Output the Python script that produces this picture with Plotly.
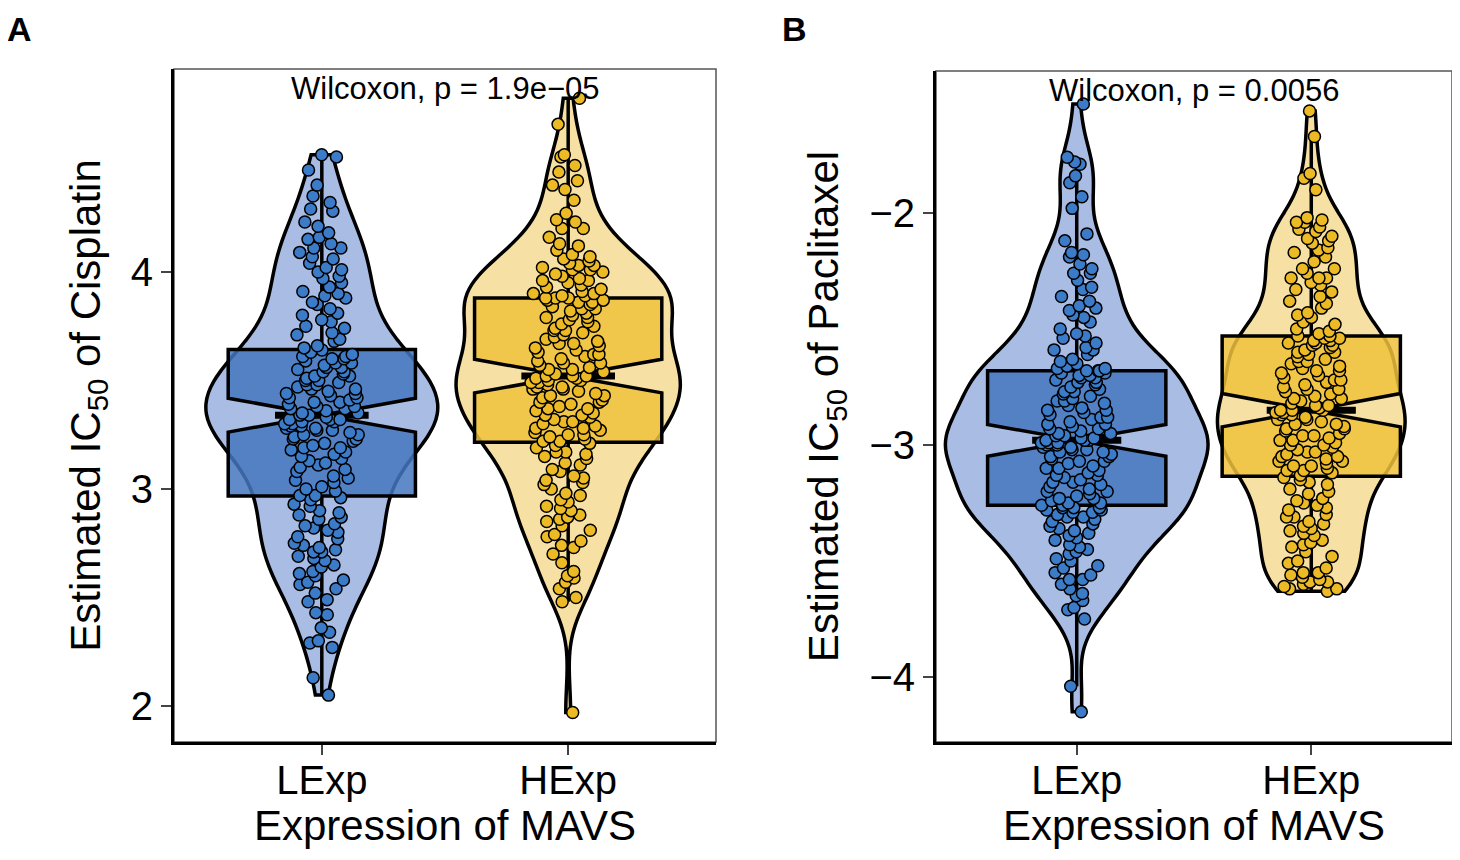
import numpy as np
import plotly.graph_objects as go
from plotly.subplots import make_subplots

# -----------------------------
# DATA (estimated IC50 values)
# -----------------------------
groups = ["LExp", "HExp"]

cis_lexp = [
    2.05, 2.13, 2.27, 2.29, 2.30, 2.34, 2.36, 2.42, 2.43, 2.48, 2.49, 2.52, 2.54, 2.56, 2.57,
    2.58, 2.60, 2.61, 2.62, 2.64, 2.65, 2.67, 2.68, 2.69, 2.71, 2.71, 2.72, 2.73, 2.74, 2.75,
    2.77, 2.78, 2.80, 2.81, 2.82, 2.83, 2.84, 2.86, 2.87, 2.88, 2.89, 2.90, 2.92, 2.93, 2.95,
    2.96, 2.97, 2.97, 2.99, 3.00, 3.01, 3.03, 3.04, 3.05, 3.06, 3.08, 3.09, 3.10, 3.11, 3.12,
    3.13, 3.14, 3.15, 3.16, 3.17, 3.18, 3.19, 3.19, 3.20, 3.21, 3.22, 3.23, 3.23, 3.24, 3.25,
    3.25, 3.26, 3.27, 3.27, 3.28, 3.28, 3.29, 3.29, 3.30, 3.30, 3.31, 3.31, 3.32, 3.32, 3.32,
    3.33, 3.34, 3.34, 3.35, 3.35, 3.36, 3.37, 3.37, 3.38, 3.38, 3.39, 3.40, 3.40, 3.41, 3.42,
    3.42, 3.43, 3.44, 3.44, 3.45, 3.46, 3.46, 3.47, 3.48, 3.48, 3.49, 3.50, 3.50, 3.51, 3.52,
    3.52, 3.53, 3.54, 3.54, 3.55, 3.56, 3.56, 3.57, 3.58, 3.58, 3.59, 3.60, 3.60, 3.61, 3.61,
    3.62, 3.63, 3.64, 3.65, 3.66, 3.68, 3.69, 3.71, 3.72, 3.74, 3.75, 3.77, 3.78, 3.80, 3.81,
    3.83, 3.85, 3.86, 3.88, 3.89, 3.90, 3.91, 3.93, 3.95, 3.97, 3.98, 4.00, 4.01, 4.02, 4.04,
    4.06, 4.07, 4.09, 4.11, 4.11, 4.13, 4.15, 4.16, 4.18, 4.21, 4.23, 4.28, 4.29, 4.32, 4.35,
    4.40, 4.47, 4.53, 4.54,
]

cis_hexp = [
    1.97, 2.48, 2.50, 2.54, 2.57, 2.59, 2.60, 2.62, 2.66, 2.70, 2.73, 2.74, 2.76, 2.78, 2.79,
    2.81, 2.83, 2.85, 2.86, 2.87, 2.88, 2.90, 2.91, 2.92, 2.94, 2.95, 2.97, 2.98, 3.00, 3.02,
    3.03, 3.04, 3.05, 3.06, 3.08, 3.09, 3.11, 3.12, 3.14, 3.15, 3.16, 3.17, 3.17, 3.19, 3.20,
    3.21, 3.22, 3.22, 3.23, 3.24, 3.25, 3.25, 3.26, 3.27, 3.28, 3.28, 3.29, 3.30, 3.31, 3.31,
    3.32, 3.33, 3.34, 3.34, 3.35, 3.36, 3.37, 3.37, 3.38, 3.39, 3.40, 3.40, 3.41, 3.42, 3.43,
    3.43, 3.44, 3.45, 3.46, 3.46, 3.47, 3.47, 3.48, 3.49, 3.49, 3.50, 3.50, 3.51, 3.51, 3.52,
    3.52, 3.52, 3.53, 3.54, 3.55, 3.55, 3.56, 3.57, 3.58, 3.58, 3.59, 3.60, 3.61, 3.62, 3.62,
    3.63, 3.64, 3.65, 3.66, 3.67, 3.67, 3.68, 3.69, 3.70, 3.71, 3.72, 3.73, 3.73, 3.74, 3.75,
    3.76, 3.77, 3.78, 3.79, 3.79, 3.80, 3.81, 3.82, 3.83, 3.83, 3.84, 3.85, 3.86, 3.86, 3.87,
    3.87, 3.88, 3.88, 3.88, 3.89, 3.89, 3.90, 3.90, 3.91, 3.92, 3.93, 3.94, 3.95, 3.96, 3.96,
    3.97, 3.98, 3.99, 4.00, 4.01, 4.01, 4.02, 4.03, 4.03, 4.04, 4.05, 4.06, 4.07, 4.08, 4.10,
    4.12, 4.13, 4.16, 4.20, 4.20, 4.23, 4.24, 4.27, 4.33, 4.38, 4.40, 4.42, 4.46, 4.49, 4.53,
    4.54, 4.68, 4.80,
]

pac_lexp = [
    -4.15, -4.04, -3.75, -3.71, -3.70, -3.67, -3.65, -3.64, -3.62, -3.60, -3.58, -3.58, -3.56,
    -3.55, -3.53, -3.52, -3.50, -3.49, -3.47, -3.46, -3.45, -3.44, -3.43, -3.41, -3.40, -3.39,
    -3.38, -3.37, -3.36, -3.35, -3.34, -3.33, -3.32, -3.31, -3.31, -3.30, -3.29, -3.29, -3.28,
    -3.28, -3.27, -3.27, -3.27, -3.26, -3.26,
    -3.25, -3.25, -3.24, -3.23, -3.23, -3.22, -3.21, -3.20, -3.20, -3.19, -3.18, -3.17, -3.16,
    -3.16, -3.15, -3.14, -3.13, -3.13, -3.12, -3.11, -3.10, -3.10, -3.09, -3.08, -3.07, -3.07,
    -3.06, -3.05, -3.05, -3.04, -3.03, -3.03, -3.02, -3.02, -3.01, -3.01, -3.00, -3.00, -2.99,
    -2.99, -2.99, -2.98, -2.98, -2.98,
    -2.97, -2.97, -2.96, -2.96, -2.95, -2.95, -2.94, -2.93, -2.93, -2.92, -2.91, -2.91, -2.90,
    -2.89, -2.88, -2.88, -2.87, -2.86, -2.85, -2.85, -2.84, -2.83, -2.82, -2.81, -2.81, -2.80,
    -2.79, -2.78, -2.77, -2.77, -2.76, -2.75, -2.74, -2.73, -2.73, -2.72, -2.71, -2.71, -2.70,
    -2.70, -2.69, -2.69, -2.68, -2.68,
    -2.68, -2.67, -2.67, -2.66, -2.65, -2.64, -2.63, -2.61, -2.59, -2.59, -2.58, -2.56, -2.54,
    -2.53, -2.52, -2.50, -2.47, -2.45, -2.44, -2.42, -2.41, -2.40, -2.38, -2.36, -2.33, -2.32,
    -2.29, -2.26, -2.26, -2.24, -2.22, -2.19, -2.18, -2.17, -2.12, -2.09, -1.98, -1.93, -1.87,
    -1.84, -1.79, -1.78, -1.76, -1.53,
]

pac_hexp = [
    -3.63, -3.62, -3.62, -3.61, -3.60, -3.59, -3.59, -3.58, -3.57, -3.56, -3.55, -3.55, -3.53,
    -3.51, -3.50, -3.48, -3.46, -3.44, -3.43, -3.42, -3.41, -3.39, -3.38, -3.37, -3.36, -3.35,
    -3.34, -3.33, -3.31, -3.31, -3.30, -3.28, -3.27, -3.26, -3.25, -3.24, -3.23, -3.21, -3.20,
    -3.19, -3.17, -3.16, -3.15, -3.14, -3.13,
    -3.12, -3.11, -3.11, -3.10, -3.09, -3.09, -3.08, -3.07, -3.07, -3.06, -3.05, -3.05, -3.04,
    -3.03, -3.03, -3.02, -3.01, -3.00, -3.00, -2.99, -2.98, -2.98, -2.97, -2.96, -2.96, -2.95,
    -2.94, -2.93, -2.93, -2.92, -2.91, -2.91, -2.90, -2.89, -2.89, -2.88, -2.87, -2.87, -2.86,
    -2.86, -2.85, -2.85, -2.85,
    -2.84, -2.83, -2.83, -2.82, -2.81, -2.80, -2.80, -2.79, -2.78, -2.77, -2.76, -2.76, -2.75,
    -2.74, -2.73, -2.72, -2.72, -2.71, -2.70, -2.69, -2.68, -2.68, -2.67, -2.66, -2.65, -2.64,
    -2.64, -2.63, -2.62, -2.61, -2.60, -2.60, -2.59, -2.58, -2.57, -2.57, -2.56, -2.56, -2.55,
    -2.55, -2.54, -2.54,
    -2.53, -2.53, -2.52, -2.51, -2.50, -2.48, -2.47, -2.45, -2.44, -2.43, -2.41, -2.39, -2.38,
    -2.36, -2.34, -2.33, -2.31, -2.30, -2.28, -2.28, -2.28, -2.26, -2.24, -2.24, -2.21, -2.19,
    -2.17, -2.16, -2.15, -2.13, -2.12, -2.11, -2.10, -2.08, -2.07, -2.06, -2.04, -2.04, -2.03,
    -2.02, -1.90, -1.85, -1.83, -1.67, -1.56,
]

p_values = ["1.9e−05", "0.0056"]
drugs = ["Cisplatin", "Paclitaxel"]

# -----------------------------
# STYLE
# -----------------------------
FONT = "Liberation Sans, Arial, Helvetica, sans-serif"
violin_fill = {"LExp": "#A9BCE4", "HExp": "#F7E0A3"}
box_fill = {"LExp": "rgba(69,118,190,0.85)", "HExp": "rgba(239,193,60,0.85)"}
point_fill = {"LExp": "#3B7BC8", "HExp": "#ECBA24"}
violin_width = [[0.94, 0.91], [1.12, 0.80]]
bandwidth = [[0.15, 0.13], [0.12, 0.11]]
BOX_W = 0.76
NOTCH_W = 0.5

# page body adds an 8px margin, so the figure is a bit smaller than the window
W, H, OFF = 1444, 844, 8


def px_x(px):
    return (px - OFF) / W


def px_y(py):
    return 1 - (py - OFF) / H


def box_stats(vals):
    v = np.sort(np.asarray(vals, dtype=float))
    q1, med, q3 = np.percentile(v, [25, 50, 75])
    iqr = q3 - q1
    lf = v[v >= q1 - 1.5 * iqr].min()
    uf = v[v <= q3 + 1.5 * iqr].max()
    notch = 1.57 * iqr / np.sqrt(len(v))
    return q1, med, q3, lf, uf, notch


panels = [[cis_lexp, cis_hexp], [pac_lexp, pac_hexp]]

fig = make_subplots(rows=1, cols=2)

for p, data_pair in enumerate(panels):
    col = p + 1
    # violins
    for g, vals in enumerate(data_pair):
        name = groups[g]
        fig.add_trace(go.Violin(
            x0=g, y=vals, name=name,
            fillcolor=violin_fill[name],
            line=dict(color="black", width=3.5),
            points=False, box_visible=False, meanline_visible=False,
            spanmode="hard", scalemode="width",
            width=violin_width[p][g], bandwidth=bandwidth[p][g],
            hoverinfo="skip", showlegend=False,
        ), row=1, col=col)
    # notched boxes, thick median, then jittered points
    for g, vals in enumerate(data_pair):
        name = groups[g]
        q1, med, q3, lf, uf, notch = box_stats(vals)
        fig.add_trace(go.Box(
            x=[g], q1=[q1], median=[med], q3=[q3],
            lowerfence=[lf], upperfence=[uf], notchspan=[notch],
            notched=True, notchwidth=NOTCH_W, width=BOX_W, whiskerwidth=0,
            fillcolor=box_fill[name],
            line=dict(color="black", width=3.5),
            hoverinfo="skip", showlegend=False,
        ), row=1, col=col)
        fig.add_trace(go.Box(
            x=[g], q1=[med], median=[med], q3=[med],
            lowerfence=[med], upperfence=[med],
            width=BOX_W * (1 - NOTCH_W), whiskerwidth=0,
            fillcolor="rgba(0,0,0,0)",
            line=dict(color="black", width=7),
            hoverinfo="skip", showlegend=False,
        ), row=1, col=col)
        fig.add_trace(go.Box(
            x0=g, y=vals, name=name,
            width=BOX_W, whiskerwidth=0,
            fillcolor="rgba(0,0,0,0)",
            line=dict(color="rgba(0,0,0,0)", width=0),
            boxpoints="all", jitter=0.4, pointpos=0,
            marker=dict(size=12, color=point_fill[name],
                        line=dict(color="black", width=1.5)),
            hoverinfo="skip", showlegend=False,
        ), row=1, col=col)

# -----------------------------
# AXES
# -----------------------------
axis_common = dict(
    showgrid=False, zeroline=False,
    showline=True, linecolor="black", linewidth=3,
    ticks="outside", ticklen=10, tickwidth=1.5, tickcolor="#444",
    tickfont=dict(size=40, color="black", family=FONT),
)

fig.update_xaxes(
    range=[-0.6, 1.6], tickmode="array", tickvals=[0, 1], ticktext=groups,
    ticklabelstandoff=-9,
    title=dict(text="Expression of MAVS", font=dict(size=42, color="black", family=FONT), standoff=10),
    **axis_common,
)
fig.update_yaxes(**axis_common)

ytitle_font = dict(size=42, color="black", family=FONT)
fig.update_layout(
    xaxis=dict(domain=[px_x(174), px_x(716)]),
    xaxis2=dict(domain=[px_x(936), px_x(1452)]),
    yaxis=dict(domain=[px_y(742), px_y(69)], range=[1.834, 4.935], tickvals=[2, 3, 4],
               title=dict(text="Estimated IC<sub>50</sub> of " + drugs[0], standoff=18,
                          font=ytitle_font)),
    yaxis2=dict(domain=[px_y(742), px_y(71)], range=[-4.28, -1.388], tickvals=[-4, -3, -2],
                title=dict(text="Estimated IC<sub>50</sub> of " + drugs[1], standoff=18,
                           font=ytitle_font)),
)

# thin frame on top/right
for ax in ["", "2"]:
    fig.add_shape(type="rect", xref="x" + ax + " domain", yref="y" + ax + " domain",
                  x0=0, x1=1, y0=0, y1=1, line=dict(color="#555", width=1.5),
                  layer="below")

# p-value labels
for i, ax in enumerate(["", "2"]):
    fig.add_annotation(
        xref="x" + ax + " domain", yref="y" + ax + " domain",
        x=0.5, y=1, yanchor="top", yshift=0, showarrow=False,
        text="Wilcoxon, p = " + p_values[i],
        font=dict(size=31, color="black", family=FONT),
    )

# panel letters
for letter, xpx in [("A", 5), ("B", 780)]:
    fig.add_annotation(
        xref="paper", yref="paper", x=px_x(xpx), y=1.0, xanchor="left", yanchor="top",
        showarrow=False, text="<b>" + letter + "</b>",
        font=dict(size=34, color="black", family=FONT),
    )

fig.update_layout(
    width=W, height=H,
    margin=dict(l=0, r=0, t=0, b=0),
    plot_bgcolor="white", paper_bgcolor="white",
    font=dict(family=FONT, color="black"),
    violinmode="overlay", boxmode="overlay",
)

fig.write_html("out.html")
